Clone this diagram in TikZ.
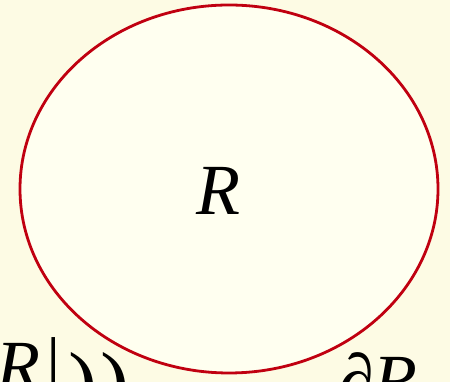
\documentclass[tikz,border=0pt]{standalone}
\usepackage{fontspec}
\setmainfont{Liberation Serif}
\usetikzlibrary{shapes.geometric}
\definecolor{bgcream}{HTML}{FDFBE4}
\definecolor{fillcream}{HTML}{FFFFF0}
\definecolor{edgered}{HTML}{C00010}
\tikzset{
  bigtext/.style={inner sep=0pt, anchor=north west, font=\fontsize{72}{72}\selectfont},
  paren/.style={inner sep=0pt, anchor=north west, font=\fontsize{88}{88}\selectfont},
}
\begin{document}
\begin{tikzpicture}[x=1pt,y=1pt]
\useasboundingbox (0,0) rectangle (450,382);
\clip (0,0) rectangle (450,382);
\fill[bgcream] (0,0) rectangle (450,382);
\node[ellipse, draw=edgered, line width=2.8pt, fill=fillcream, minimum width=418pt, minimum height=368pt, inner sep=0pt] (reg) at (229,193) {};
\node[inner sep=0pt, anchor=base, font=\fontsize{72}{72}\selectfont] (rlabel) at (218,167) {\itshape R};
\node[bigtext] (leftr) at (-4,39) {\itshape R};
\node[bigtext] (bar) at (46,45) {|};
\node[paren] (parone) at (68,30) {)};
\node[paren] (partwo) at (100,30) {)};
\node[bigtext] (bdry) at (338,30) {\itshape ∂R};
\end{tikzpicture}
\end{document}
